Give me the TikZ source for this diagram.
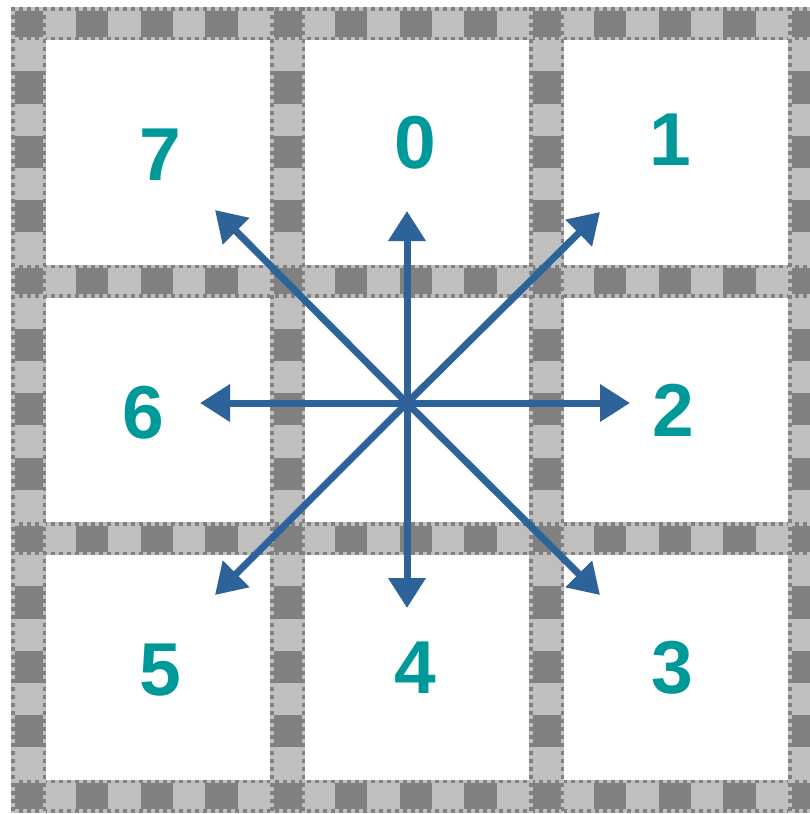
\documentclass[tikz,border=0pt]{standalone}
\usepackage{fontspec}
\setmainfont{Liberation Sans}
\usetikzlibrary{arrows.meta}
\definecolor{bandlight}{HTML}{BFBFBF}
\definecolor{banddark}{HTML}{808080}
\definecolor{labelteal}{HTML}{009999}
\definecolor{arrowblue}{HTML}{2E6399}
\tikzset{
  arr/.style={draw=arrowblue, line width=7pt, -{Triangle[length=30pt,width=36pt]}},
  lbl/.style={text=labelteal, inner sep=0pt, font=\fontsize{75}{75}\selectfont\bfseries},
  edgedark/.style={draw=banddark, line width=3.5pt, dash pattern=on 4pt off 4pt},
  edgelight/.style={draw=bandlight, line width=3.5pt, dash pattern=on 4pt off 4pt, dash phase=4pt},
}
\begin{document}
\begin{tikzpicture}[x=1pt,y=-1pt]
\useasboundingbox (0,0) rectangle (810,814);
\begin{scope}
\clip (0,0) rectangle (810,814);
% background band colour
\fill[bandlight] (11,7) rectangle (823,812.5);
% dark squares on horizontal bands
\foreach \yy in {7,264.5,522,779.5}{
  \foreach \k in {0,...,12}{
    \fill[banddark] ({11+\k*64.75},\yy) rectangle ({11+\k*64.75+32.4},\yy+33);
  }
}
% dark squares on vertical bands
\foreach \xx in {11,270,529,788}{
  \foreach \k in {0,...,12}{
    \fill[banddark] (\xx,{7+\k*64.375}) rectangle (\xx+35,{7+\k*64.375+32.2});
  }
}
% white cells
\foreach \xa/\xb in {46/270,305/529,564/788}{
  \foreach \ya/\yb in {40/264.5,297.5/522,555/779.5}{
    \fill[white] (\xa,\ya) rectangle (\xb,\yb);
  }
}
% dotted edges of horizontal bands
\foreach \yy in {7,264.5,522,779.5}{
  \draw[edgedark] (11,\yy+1.75) -- (823,\yy+1.75);
  \draw[edgelight] (11,\yy+1.75) -- (823,\yy+1.75);
  \draw[edgedark] (11,\yy+31.25) -- (823,\yy+31.25);
  \draw[edgelight] (11,\yy+31.25) -- (823,\yy+31.25);
}
% dotted edges of vertical bands
\foreach \xx in {11,270,529,788}{
  \draw[edgedark] (\xx+1.75,7) -- (\xx+1.75,812.5);
  \draw[edgelight] (\xx+1.75,7) -- (\xx+1.75,812.5);
  \draw[edgedark] (\xx+33.25,7) -- (\xx+33.25,812.5);
  \draw[edgelight] (\xx+33.25,7) -- (\xx+33.25,812.5);
}
\end{scope}
% labels
\node[lbl] (l7) at (160,155) {7};
\node[lbl] (l0) at (415,143) {0};
\node[lbl] (l1) at (670,140) {1};
\node[lbl] (l6) at (143,413) {6};
\node[lbl] (l2) at (673,410) {2};
\node[lbl] (l5) at (160,670) {5};
\node[lbl] (l4) at (415,668) {4};
\node[lbl] (l3) at (672,668) {3};
% arrows
\coordinate (c) at (407,403);
\coordinate (t0) at (407,211);
\coordinate (t1) at (600,212);
\coordinate (t2) at (630,403);
\coordinate (t3) at (600,595);
\coordinate (t4) at (407,608);
\coordinate (t5) at (215,595);
\coordinate (t6) at (200,403);
\coordinate (t7) at (215,210);
\foreach \t in {t0,t1,t2,t3,t4,t5,t6,t7}{
  \draw[arr] (c) -- (\t);
}
\end{tikzpicture}
\end{document}
